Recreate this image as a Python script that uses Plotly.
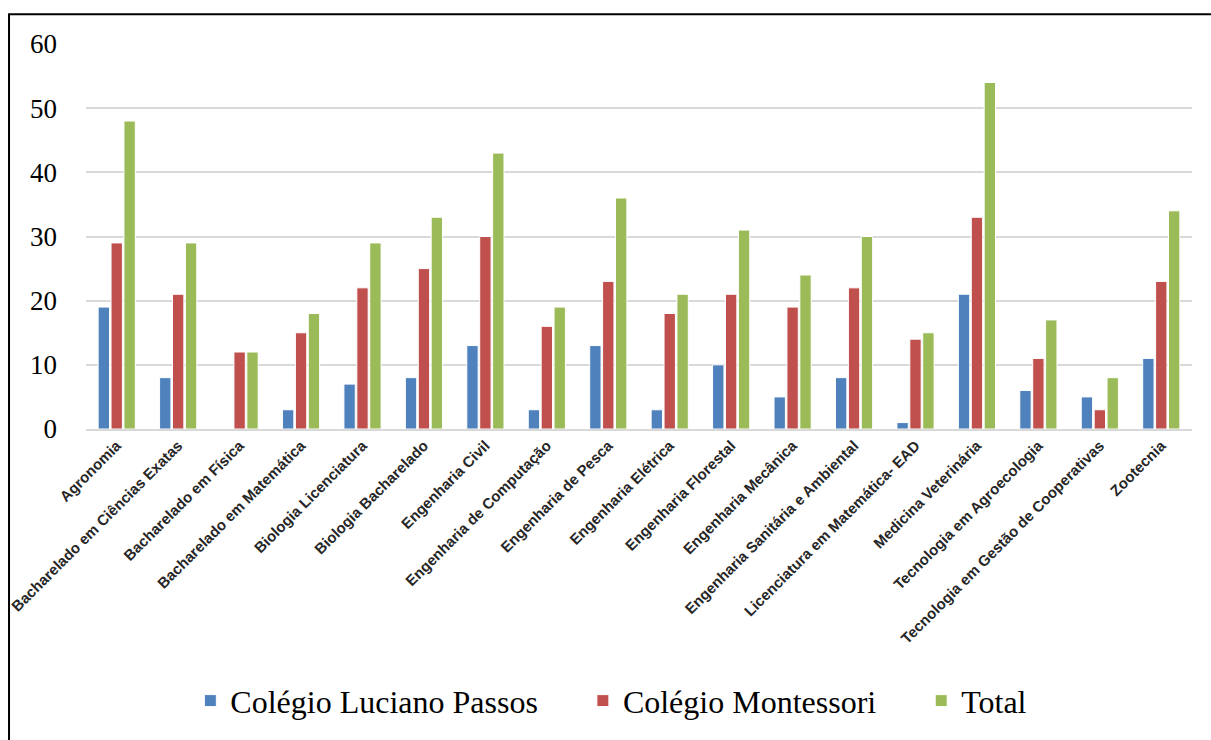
import plotly.graph_objects as go

cursos = [
    "Agronomia",
    "Bacharelado em Ciências Exatas",
    "Bacharelado em Física",
    "Bacharelado em Matemática",
    "Biologia Licenciatura",
    "Biologia Bacharelado",
    "Engenharia Civil",
    "Engenharia de Computação",
    "Engenharia de Pesca",
    "Engenharia Elétrica",
    "Engenharia Florestal",
    "Engenharia Mecânica",
    "Engenharia Sanitária e Ambiental",
    "Licenciatura em Matemática- EAD",
    "Medicina Veterinária",
    "Tecnologia em Agroecologia",
    "Tecnologia em Gestão de Cooperativas",
    "Zootecnia",
]
luciano_passos = [19, 8, 0, 3, 7, 8, 13, 3, 13, 3, 10, 5, 8, 1, 21, 6, 5, 11]
montessori = [29, 21, 12, 15, 22, 25, 30, 16, 23, 18, 21, 19, 22, 14, 33, 11, 3, 23]
total = [48, 29, 12, 18, 29, 33, 43, 19, 36, 21, 31, 24, 30, 15, 54, 17, 8, 34]
y_ticks = [0, 10, 20, 30, 40, 50, 60]

series = [
    ("Colégio Luciano Passos", luciano_passos, "#4F81BD"),
    ("Colégio Montessori", montessori, "#C0504D"),
    ("Total", total, "#9BBB59"),
]

SERIF = "Times New Roman"
PAD = "\u00a0" * 5  # extra room between legend entries

fig = go.Figure()
for i, (nome, valores, cor) in enumerate(series):
    fig.add_trace(go.Bar(
        x=cursos, y=valores,
        name=nome + (PAD if i < len(series) - 1 else ""),
        marker=dict(color=cor, line=dict(color="white", width=1)),
    ))

fig.update_layout(
    width=1211, height=740,
    font=dict(family=SERIF, color="black"),
    margin=dict(l=86, r=19, t=44, b=308),
    paper_bgcolor="white", plot_bgcolor="white",
    barmode="group", bargap=0.37, bargroupgap=0.12,
    showlegend=True,
    legend=dict(
        orientation="h", x=0.475, xanchor="center", y=-0.706, yanchor="middle",
        font=dict(family=SERIF, size=32, color="black"),
        itemwidth=30,
    ),
    xaxis=dict(
        type="category",
        tickangle=-45,
        tickfont=dict(family="Liberation Sans", size=15,
                      color="#262626", weight="bold"),
        showline=True, linecolor="#D9D9D9", linewidth=2,
        ticks="", showgrid=False, automargin=False,
    ),
    yaxis=dict(
        range=[0, 60], tickvals=y_ticks,
        tickfont=dict(family=SERIF, size=27, color="black"),
        showgrid=True, gridcolor="#D9D9D9", gridwidth=1.5,
        zeroline=False, ticks="", ticklabelstandoff=28, automargin=False,
    ),
    shapes=[
        dict(type="rect", xref="paper", yref="paper",
             x0=-0.0696, x1=1.2, y0=-1.2, y1=1.0773,
             line=dict(color="black", width=2), fillcolor="rgba(0,0,0,0)",
             layer="above"),
    ],
)

fig.write_html("out.html")
